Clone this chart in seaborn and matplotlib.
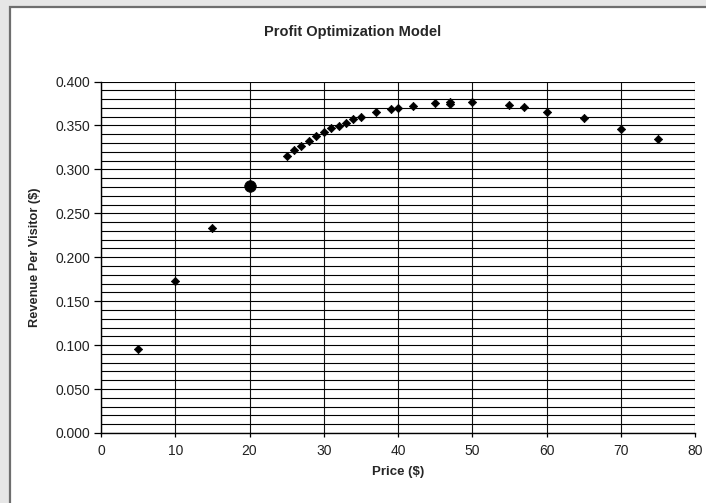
import matplotlib
matplotlib.use("Agg")
import matplotlib.pyplot as plt
from matplotlib.patches import Rectangle
from matplotlib.ticker import MultipleLocator, FormatStrFormatter
import seaborn as sns
import pandas as pd

# Price points tested and the resulting revenue per visitor
price = [5, 10, 15, 25, 26, 27, 28, 29, 30, 31, 32, 33, 34, 35, 37, 39, 40,
         42, 45, 47, 47, 50, 55, 57, 60, 65, 70, 75]
revenue = [0.0956, 0.1733, 0.2336, 0.3156, 0.3221, 0.3269, 0.3326, 0.3376,
           0.3422, 0.3467, 0.3494, 0.3531, 0.3570, 0.3596, 0.3650, 0.3687,
           0.3702, 0.3725, 0.3752, 0.3745, 0.3766, 0.3763, 0.3729, 0.3710,
           0.3656, 0.3581, 0.3463, 0.3349]

# Current price point, highlighted
current_price = [20]
current_revenue = [0.2811]

title = "Profit Optimization Model"
x_label = "Price ($)"
y_label = "Revenue Per Visitor ($)"

sns.set_theme(style="white")
plt.rcParams["font.family"] = ["Liberation Sans", "DejaVu Sans"]

df = pd.DataFrame({"price": price, "revenue": revenue})
df_cur = pd.DataFrame({"price": current_price, "revenue": current_revenue})

fig = plt.figure(figsize=(7.06, 5.03), dpi=100)
fig.patch.set_facecolor("#e6e6e6")

# White chart panel with a grey frame, drawn behind the axes
panel = Rectangle((10 / 706, -0.01), 1.0, (503 - 7) / 503 + 0.01,
                  transform=fig.transFigure, facecolor="white",
                  edgecolor="#6e6e6e", linewidth=1.6, zorder=-10)
fig.patches.append(panel)

ax = fig.add_axes([101 / 706, (503 - 433) / 503, 594 / 706, 351.5 / 503])
ax.set_zorder(1)
ax.set_facecolor("white")

sns.scatterplot(data=df, x="price", y="revenue", marker="D", s=18,
                color="black", edgecolor="black", linewidth=0.5, ax=ax,
                zorder=5)
sns.scatterplot(data=df_cur, x="price", y="revenue", marker="o", s=70,
                color="black", edgecolor="black", linewidth=0.5, ax=ax,
                zorder=6)

ax.set_xlim(0, 80)
ax.set_ylim(0, 0.4)
ax.xaxis.set_major_locator(MultipleLocator(10))
ax.yaxis.set_major_locator(MultipleLocator(0.05))
ax.yaxis.set_minor_locator(MultipleLocator(0.01))
ax.yaxis.set_major_formatter(FormatStrFormatter("%.3f"))

ax.grid(True, which="major", axis="x", color="#111111", linewidth=0.8)
ax.grid(True, which="both", axis="y", color="black", linewidth=0.8)
ax.set_axisbelow(True)

for side in ("top", "right"):
    ax.spines[side].set_visible(False)
for side in ("left", "bottom"):
    ax.spines[side].set_color("black")
    ax.spines[side].set_linewidth(1.0)

ax.tick_params(axis="y", which="major", direction="out", length=5,
               width=0.9, color="black", labelsize=10, pad=3,
               left=True, labelcolor="#222222")
ax.tick_params(axis="y", which="minor", length=0, left=False)
ax.tick_params(axis="x", which="major", direction="out", length=3,
               width=0.9, color="black", labelsize=10, pad=5,
               bottom=True, labelcolor="#222222")

ax.set_xlabel(x_label, fontsize=9.5, fontweight="bold", labelpad=6)
ax.set_ylabel(y_label, fontsize=9.2, fontweight="bold", labelpad=10)
fig.text(353 / 706, 1 - 32 / 503, title, ha="center", va="center",
         fontsize=10.5, fontweight="bold")

fig.savefig("out.png", dpi=100, facecolor=fig.get_facecolor())
